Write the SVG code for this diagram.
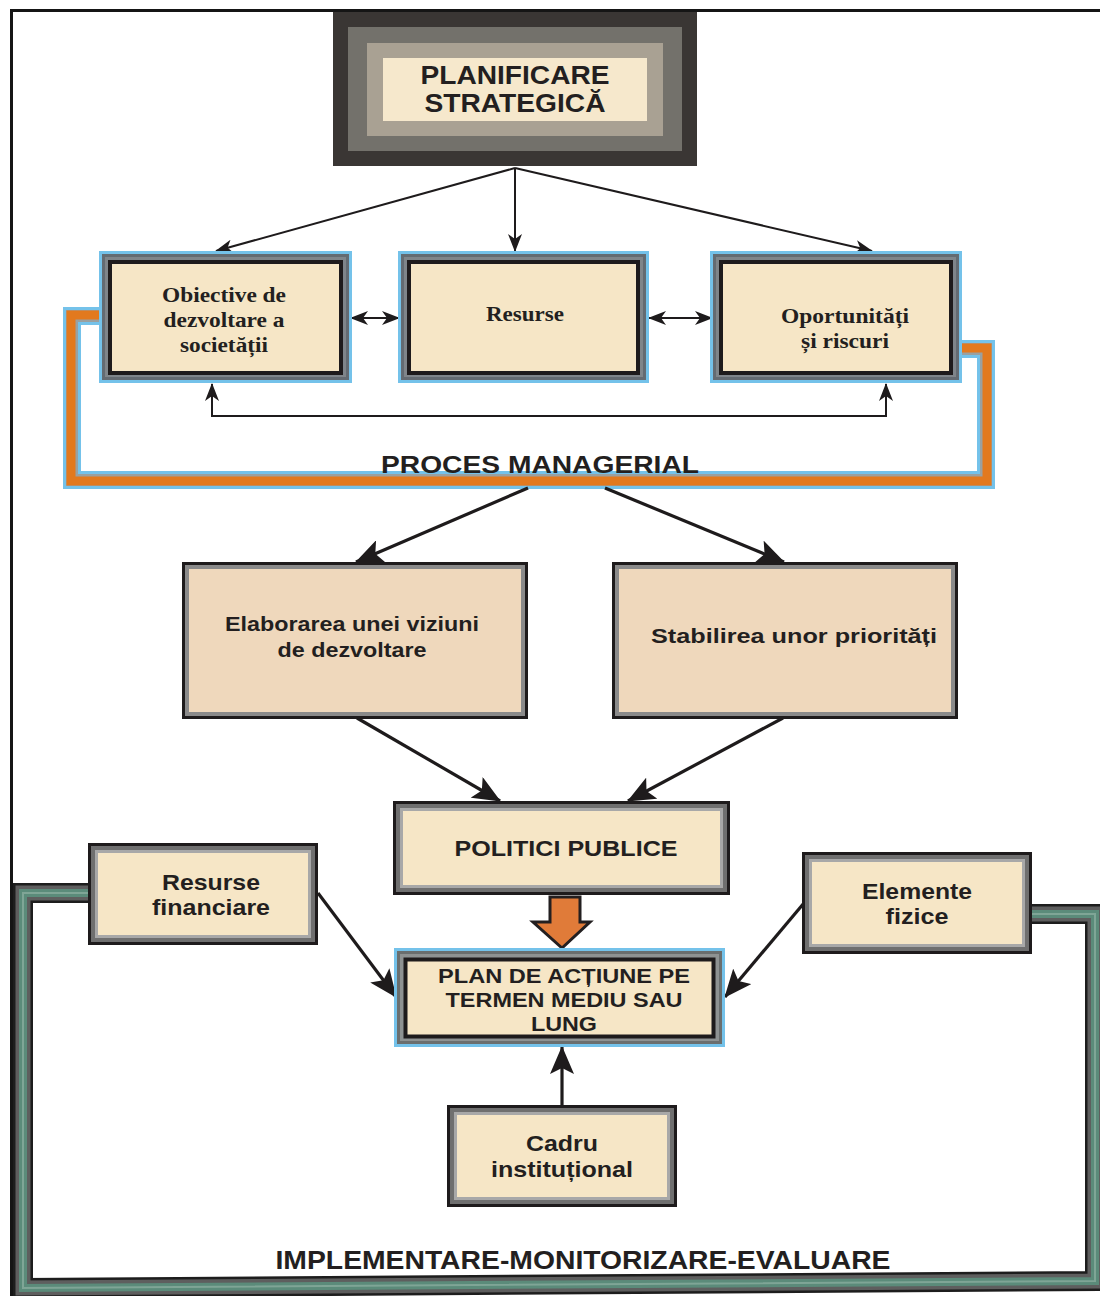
<svg xmlns="http://www.w3.org/2000/svg" width="1100" height="1296" viewBox="0 0 1100 1296">
<style>
.s{font-family:"Liberation Sans",Arial,sans-serif;font-weight:bold;fill:#231f20;text-anchor:middle}
.r{font-family:"Liberation Serif","Times New Roman",serif;font-weight:bold;fill:#231f20;text-anchor:middle}
.ln{fill:none;stroke:#1e1b1c;stroke-width:2}
.lt{fill:none;stroke:#1e1b1c;stroke-width:3.2}
.cream{fill:#f6e6c6}
</style>
<defs>
<marker id="ah" markerWidth="18" markerHeight="14" refX="17" refY="7" orient="auto-start-reverse" markerUnits="userSpaceOnUse">
<path d="M0,0 L18,7 L0,14 L5,7 z" fill="#1e1b1c"/>
</marker>
<marker id="ab" markerWidth="28" markerHeight="24" refX="27" refY="12" orient="auto" markerUnits="userSpaceOnUse">
<path d="M0,0 L28,12 L0,24 L6,12 z" fill="#1e1b1c"/>
</marker>
</defs>

<rect width="1100" height="1296" fill="#ffffff"/>

<!-- outer frame lines -->
<g id="frame">
<path d="M11.5,1296 V10.5 H1100" fill="none" stroke="#151515" stroke-width="3"/>
</g>

<!-- bands -->
<g id="band-proces">
<path d="M100,316 H72 V480 H986 V349 H960" fill="none" stroke="#74c2ea" stroke-width="18" stroke-linejoin="miter"/>
<path d="M100,316 H72 V480 H986 V349 H960" fill="none" stroke="#9aa0a0" stroke-width="12" stroke-linejoin="miter"/>
<path d="M100,315 H71 V481 H987 V348 H960" fill="none" stroke="#e2791e" stroke-width="9" stroke-linejoin="miter"/>
</g>
<g id="band-impl">
<path d="M95,893 H23 V1288 L1095,1281 V914 H1028" fill="none" stroke="#1d1d1d" stroke-width="20" stroke-linejoin="miter"/>
<path d="M95,893 H23 V1288 L1095,1281 V914 H1028" fill="none" stroke="#5e5e5e" stroke-width="15" stroke-linejoin="miter"/>
<path d="M95,893 H23 V1288 L1095,1281 V914 H1028" fill="none" stroke="#5b8b7a" stroke-width="8" stroke-linejoin="miter"/>
<path d="M95,893 H23 V1288 L1095,1281 V914 H1028" fill="none" stroke="#7fa596" stroke-width="2" stroke-linejoin="miter"/>
</g>

<!-- connectors -->
<g id="connectors">
<path class="ln" d="M515,168 L216,251" marker-end="url(#ah)"/>
<path class="ln" d="M515,168 L515,251" marker-end="url(#ah)"/>
<path class="ln" d="M515,168 L872,251" marker-end="url(#ah)"/>
<path class="ln" d="M351,318 L399,318" marker-start="url(#ah)" marker-end="url(#ah)"/>
<path class="ln" d="M649,318 L712,318" marker-start="url(#ah)" marker-end="url(#ah)"/>
<path class="ln" d="M212,384 V416 H886 V384" marker-start="url(#ah)" marker-end="url(#ah)"/>
<path class="lt" d="M528,488 L356,562" marker-end="url(#ab)"/>
<path class="lt" d="M605,488 L784,562" marker-end="url(#ab)"/>
<path class="lt" d="M357,718 L500,801" marker-end="url(#ab)"/>
<path class="lt" d="M783,718 L628,801" marker-end="url(#ab)"/>
<path class="lt" d="M318,893 L396,997" marker-end="url(#ab)"/>
<path class="lt" d="M804,903 L725,997" marker-end="url(#ab)"/>
<path class="lt" d="M562,1105 L562,1047" marker-end="url(#ab)"/>
<path d="M550,897 L580,897 L580,922 L590,922 L562,948 L533,922 L550,922 Z" fill="#e07b39" stroke="#231f20" stroke-width="3" stroke-linejoin="miter"/>
</g>

<!-- PLANIFICARE STRATEGICA -->
<g id="planificare">
<rect x="333" y="12" width="364" height="154" fill="#3a3634"/>
<rect x="348" y="27" width="334" height="124" fill="#73716b"/>
<rect x="367" y="43" width="296" height="93" fill="#a9a193"/>
<rect x="383" y="58" width="264" height="63" fill="#f6e8cc"/>
<text class="s" x="515" y="84" font-size="26" textLength="189" lengthAdjust="spacingAndGlyphs">PLANIFICARE</text>
<text class="s" x="515" y="112" font-size="26" textLength="181" lengthAdjust="spacingAndGlyphs">STRATEGICĂ</text>
</g>

<!-- top row -->
<g id="obiective">
<rect x="99" y="251" width="253" height="132" fill="#74c2ea"/>
<rect x="102" y="254" width="247" height="126" fill="#646b72"/>
<rect x="105" y="257" width="241" height="120" fill="#7f858a"/>
<rect x="110" y="262" width="231" height="111" class="cream" stroke="#1e1b1c" stroke-width="4"/>
<text class="r" x="224" y="302" font-size="22" textLength="124" lengthAdjust="spacingAndGlyphs">Obiective de</text>
<text class="r" x="224" y="327" font-size="22" textLength="121" lengthAdjust="spacingAndGlyphs">dezvoltare a</text>
<text class="r" x="224" y="352" font-size="22" textLength="88" lengthAdjust="spacingAndGlyphs">societății</text>
</g>
<g id="resurse">
<rect x="398" y="251" width="251" height="132" fill="#74c2ea"/>
<rect x="401" y="254" width="245" height="126" fill="#646b72"/>
<rect x="404" y="257" width="239" height="120" fill="#7f858a"/>
<rect x="409" y="262" width="229" height="111" class="cream" stroke="#1e1b1c" stroke-width="4"/>
<text class="r" x="525" y="321" font-size="22" textLength="78" lengthAdjust="spacingAndGlyphs">Resurse</text>
</g>
<g id="oportunitati">
<rect x="710" y="251" width="252" height="132" fill="#74c2ea"/>
<rect x="713" y="254" width="246" height="126" fill="#646b72"/>
<rect x="716" y="257" width="240" height="120" fill="#7f858a"/>
<rect x="721" y="262" width="230" height="111" class="cream" stroke="#1e1b1c" stroke-width="4"/>
<text class="r" x="845" y="323" font-size="22" textLength="128" lengthAdjust="spacingAndGlyphs">Oportunități</text>
<text class="r" x="845" y="348" font-size="22" textLength="88" lengthAdjust="spacingAndGlyphs">și riscuri</text>
</g>

<text class="s" x="540" y="473" font-size="24" textLength="318" lengthAdjust="spacingAndGlyphs">PROCES MANAGERIAL</text>

<!-- middle row -->
<g id="elaborarea">
<rect x="183.5" y="563.5" width="343" height="154" fill="#8a8a8a" stroke="#1e1b1c" stroke-width="3"/>
<rect x="189" y="569" width="332" height="143" fill="#efd8bc"/>
<text class="s" x="352" y="631" font-size="21" textLength="254" lengthAdjust="spacingAndGlyphs">Elaborarea unei viziuni</text>
<text class="s" x="352" y="657" font-size="21" textLength="149" lengthAdjust="spacingAndGlyphs">de dezvoltare</text>
</g>
<g id="stabilirea">
<rect x="613.5" y="563.5" width="343" height="154" fill="#8a8a8a" stroke="#1e1b1c" stroke-width="3"/>
<rect x="619" y="569" width="332" height="143" fill="#efd8bc"/>
<text class="s" x="794" y="643" font-size="21" textLength="286" lengthAdjust="spacingAndGlyphs">Stabilirea unor priorități</text>
</g>

<!-- POLITICI PUBLICE -->
<g id="politici">
<rect x="394.5" y="802.5" width="334" height="91" fill="#6f6f6f" stroke="#1e1b1c" stroke-width="3"/>
<rect x="400" y="808" width="323" height="80" fill="#a8a8a8"/>
<rect x="403" y="811" width="317" height="74" class="cream"/>
<text class="s" x="566" y="856" font-size="22" textLength="223" lengthAdjust="spacingAndGlyphs">POLITICI PUBLICE</text>
</g>

<!-- PLAN -->
<g id="plan">
<rect x="394" y="948" width="331" height="99" fill="#74c2ea"/>
<rect x="397" y="951" width="325" height="93" fill="#6a6e6e"/>
<rect x="400" y="954" width="319" height="87" fill="#8e9292"/>
<rect x="405.5" y="959.5" width="308" height="77" class="cream" stroke="#1e1b1c" stroke-width="4"/>
<text class="s" x="564" y="983" font-size="21" textLength="252" lengthAdjust="spacingAndGlyphs">PLAN DE ACȚIUNE PE</text>
<text class="s" x="564" y="1007" font-size="21" textLength="237" lengthAdjust="spacingAndGlyphs">TERMEN MEDIU SAU</text>
<text class="s" x="564" y="1031" font-size="21" textLength="66" lengthAdjust="spacingAndGlyphs">LUNG</text>
</g>

<!-- Resurse financiare -->
<g id="resurse-financiare">
<rect x="89.5" y="844.5" width="227" height="99" fill="#6f6f6f" stroke="#1e1b1c" stroke-width="3"/>
<rect x="95" y="850" width="216" height="88" fill="#a8a8a8"/>
<rect x="98" y="853" width="210" height="82" class="cream"/>
<text class="s" x="211" y="890" font-size="22" textLength="98" lengthAdjust="spacingAndGlyphs">Resurse</text>
<text class="s" x="211" y="915" font-size="22" textLength="118" lengthAdjust="spacingAndGlyphs">financiare</text>
</g>

<!-- Elemente fizice -->
<g id="elemente-fizice">
<rect x="803.5" y="853.5" width="227" height="99" fill="#6f6f6f" stroke="#1e1b1c" stroke-width="3"/>
<rect x="809" y="859" width="216" height="88" fill="#a8a8a8"/>
<rect x="812" y="862" width="210" height="82" class="cream"/>
<text class="s" x="917" y="899" font-size="22" textLength="110" lengthAdjust="spacingAndGlyphs">Elemente</text>
<text class="s" x="917" y="924" font-size="22" textLength="63" lengthAdjust="spacingAndGlyphs">fizice</text>
</g>

<!-- Cadru institutional -->
<g id="cadru">
<rect x="448.5" y="1106.5" width="227" height="99" fill="#6f6f6f" stroke="#1e1b1c" stroke-width="3"/>
<rect x="454" y="1112" width="216" height="88" fill="#a8a8a8"/>
<rect x="457" y="1115" width="210" height="82" class="cream"/>
<text class="s" x="562" y="1151" font-size="22" textLength="72" lengthAdjust="spacingAndGlyphs">Cadru</text>
<text class="s" x="562" y="1177" font-size="22" textLength="142" lengthAdjust="spacingAndGlyphs">instituțional</text>
</g>

<text class="s" x="583" y="1269" font-size="25" textLength="615" lengthAdjust="spacingAndGlyphs">IMPLEMENTARE-MONITORIZARE-EVALUARE</text>
</svg>
